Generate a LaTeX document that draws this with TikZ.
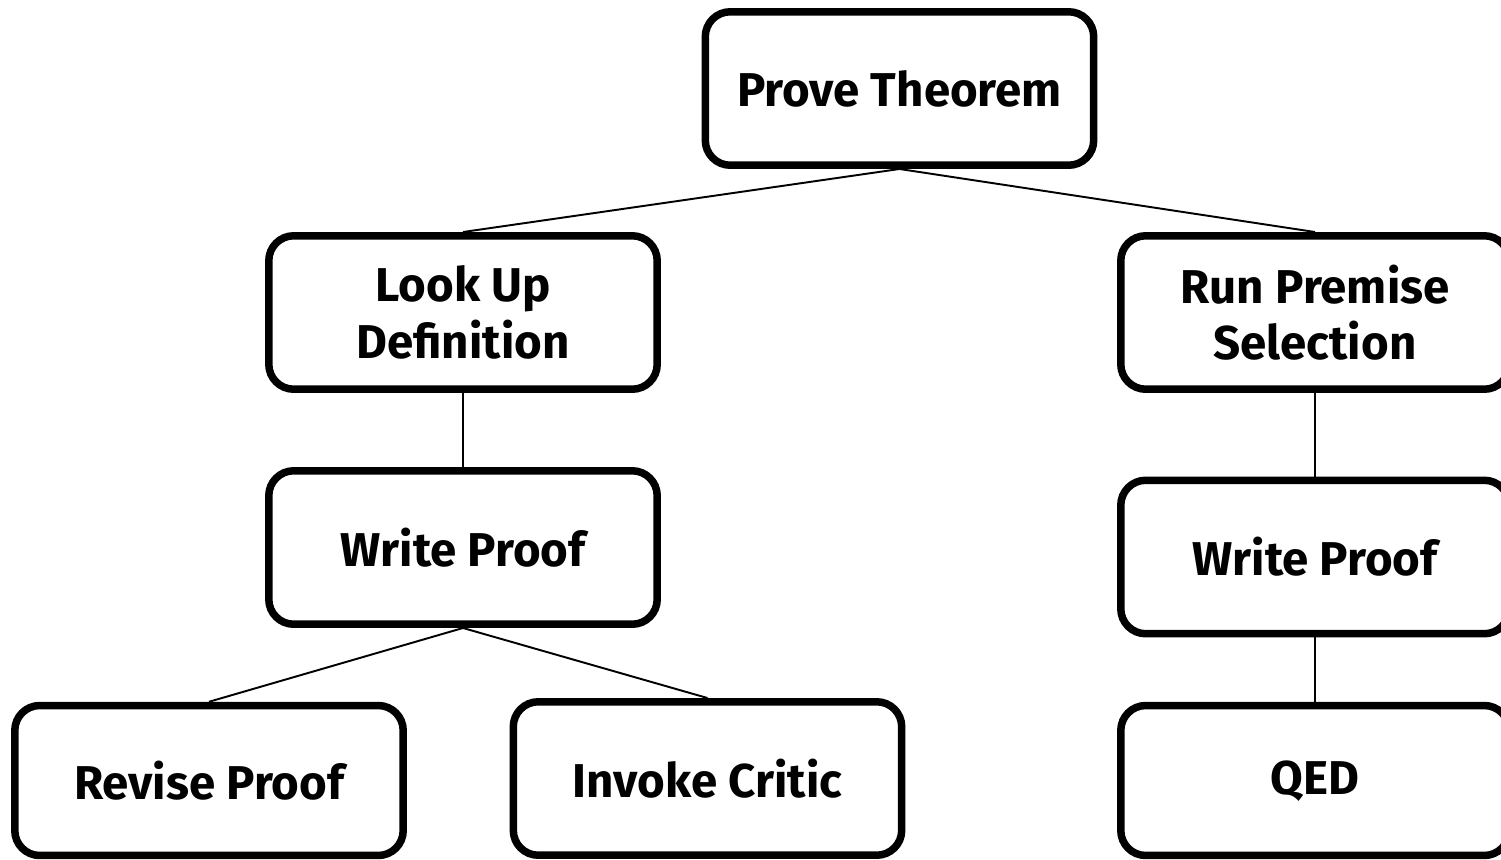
\documentclass[tikz,border=0pt]{standalone}
\usepackage{fontspec}
\setmainfont{Fira Sans}
\begin{document}
\begin{tikzpicture}[x=0.02cm,y=-0.02cm,
  task/.style={draw=black, fill=white, line width=0.15cm, rounded corners=0.5cm,
    minimum width=7.77cm, minimum height=3.07cm, inner sep=0pt, align=center,
    font=\fontsize{27}{32}\selectfont\bfseries},
  link/.style={draw=black, line width=1.1pt}]
  \useasboundingbox (0,0) rectangle (1501,859);

  % tree of proof steps
  \node[task] (pt)  at (899.5, 88.5) {Prove Theorem};
  \node[task] (lu)  at (463, 312.5)  {Look Up\\Definition};
  \node[task] (rp)  at (1315, 312.5) {Run Premise\\Selection};
  \node[task] (wl)  at (463, 547.5)  {Write Proof};
  \node[task] (wr)  at (1315, 557)   {Write Proof};
  \node[task, minimum height=3.0cm] (rv)  at (209, 780.5)   {Revise Proof};
  \node[task] (ic)  at (707.5, 778.5) {Invoke Critic};
  \node[task, minimum height=3.0cm, text depth=0.1cm] (qed) at (1315, 780.5)  {QED};

  % parent-child links
  \draw[link] (pt.south) -- (lu.north);
  \draw[link] (pt.south) -- (rp.north);
  \draw[link] (lu.south) -- (wl.north);
  \draw[link] (wl.south) -- (rv.north);
  \draw[link] (wl.south) -- (ic.north);
  \draw[link] (rp.south) -- (wr.north);
  \draw[link] (wr.south) -- (qed.north);
\end{tikzpicture}
\end{document}
